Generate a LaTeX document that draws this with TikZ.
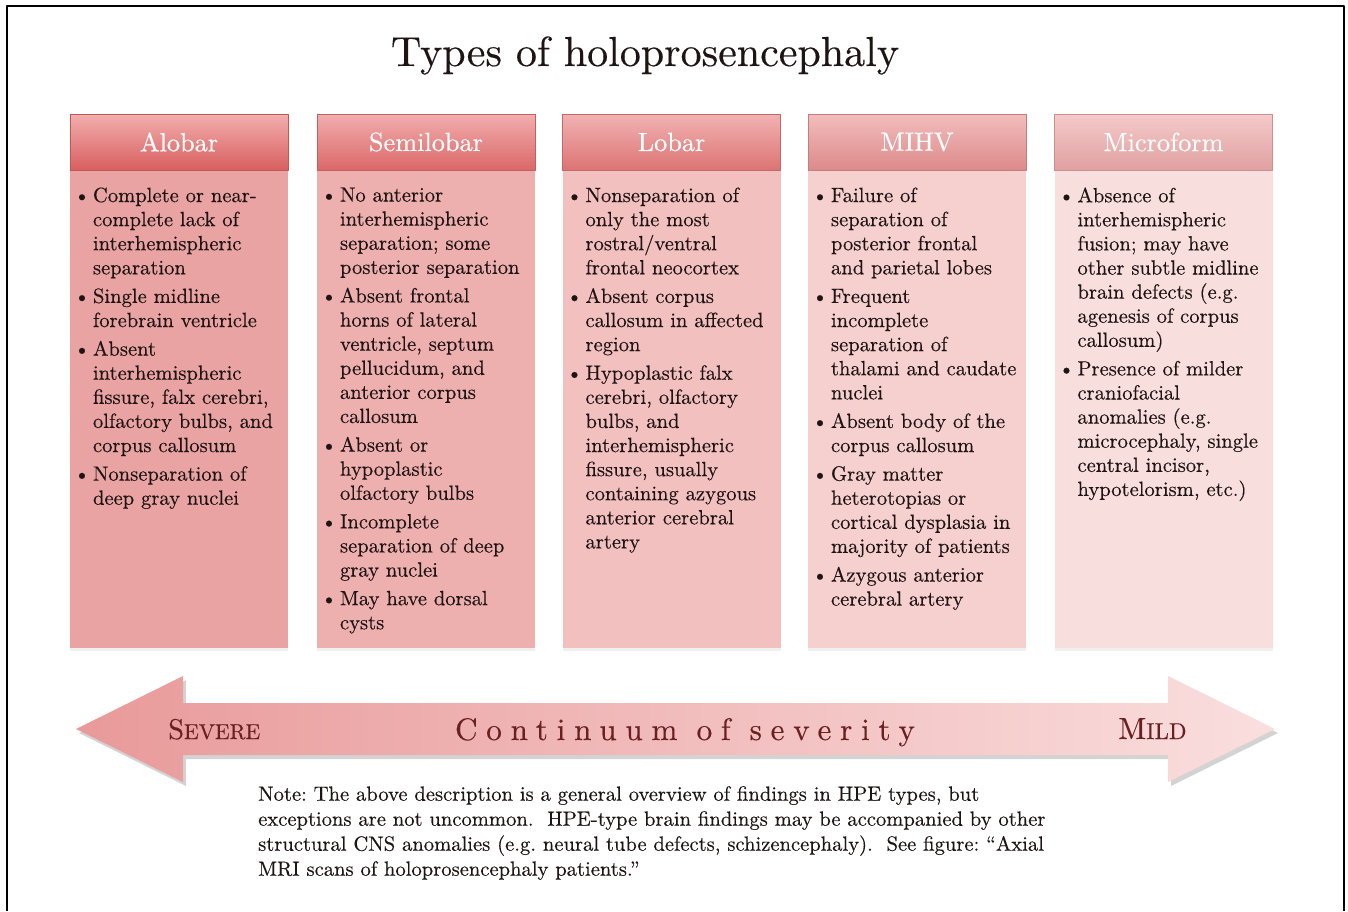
\documentclass[tikz,border=0pt]{standalone}
\usepackage{fontspec}
\usetikzlibrary{positioning,shadows}

\setmainfont[FakeBold=0.3]{lmroman10-regular.otf}
\newfontfamily\spacedfont[LetterSpace=28,FakeBold=0.3]{lmroman10-regular.otf}
\frenchspacing

% column colours, severe -> mild
\definecolor{bodyA}{HTML}{E9A3A3}
\definecolor{bodyB}{HTML}{EEAFAF}
\definecolor{bodyC}{HTML}{F3C0C0}
\definecolor{bodyD}{HTML}{F6CFCF}
\definecolor{bodyE}{HTML}{F9DEDE}
\definecolor{headtopA}{HTML}{F3AEAE}
\definecolor{headtopB}{HTML}{F2AEAE}
\definecolor{headtopC}{HTML}{F2B2B2}
\definecolor{headtopD}{HTML}{F3BDBD}
\definecolor{headtopE}{HTML}{F5CACA}
\definecolor{headbotA}{HTML}{D95F5F}
\definecolor{headbotB}{HTML}{DB6868}
\definecolor{headbotC}{HTML}{DC7474}
\definecolor{headbotD}{HTML}{DC8A8A}
\definecolor{headbotE}{HTML}{E0A0A0}
\definecolor{arrowL}{HTML}{E99A9A}
\definecolor{arrowM}{HTML}{F2C2C2}
\definecolor{arrowR}{HTML}{FADEDE}
\definecolor{textdark}{HTML}{1E1414}
\definecolor{labelred}{HTML}{6A2020}

\newcommand{\hpeitem}{\llap{\textbullet\hspace{3pt}}}

\begin{document}
\begin{tikzpicture}[x=1pt,y=-1pt,line join=round,
    headbox/.style={rectangle, minimum width=218pt, minimum height=56pt, inner sep=0pt,
      text=white, line width=0.6pt, font=\fontsize{26.3}{29}\selectfont},
    bodybox/.style={rectangle, minimum width=218pt, minimum height=477pt, inner sep=0pt,
      drop shadow={opacity=0.12, shadow xshift=0pt, shadow yshift=-3pt}},
    bodytext/.style={inner sep=0pt, align=left, text=textdark,
      font=\fontsize{20.6}{24.1}\selectfont},
    sidelabel/.style={text=labelred, inner sep=0pt}]
  \useasboundingbox (0,0) rectangle (1348,911);

  % Frame
  \draw[line width=2.5pt] (7,911) -- (7,6) -- (1344,6) -- (1344,911);

  \node[font=\fontsize{42}{46}\selectfont, text=textdark, anchor=base] (title) at (645,66)
    {Types of holoprosencephaly};

  % Columns
  \foreach \cx/\idx/\title in {179/A/Alobar, 426/B/Semilobar, 671.5/C/Lobar,
                               917/D/MIHV, 1163.5/E/Microform} {
    \node[bodybox, fill=body\idx] (bd\idx) at (\cx,409.5) {};
    \node[headbox, top color=headtop\idx, bottom color=headbot\idx, draw=headbot\idx!90!black]
      (hd\idx) at (\cx,142) {\title};
  }

  \node[bodytext, below right=16.5pt and 23pt of bdA.north west] (txA) {%
    \hpeitem Complete or near-\\ complete lack of\\ interhemispheric\\ separation\\[4.5pt]
    \hpeitem Single midline\\ forebrain ventricle\\[4.5pt]
    \hpeitem Absent\\ interhemispheric\\ fissure, falx cerebri,\\ olfactory bulbs, and\\ corpus callosum\\[4.5pt]
    \hpeitem Nonseparation of\\ deep gray nuclei};

  \node[bodytext, below right=16.5pt and 23pt of bdB.north west] (txB) {%
    \hpeitem No anterior\\ interhemispheric\\ separation; some\\ posterior separation\\[4.5pt]
    \hpeitem Absent frontal\\ horns of lateral\\ ventricle, septum\\ pellucidum, and\\ anterior corpus\\ callosum\\[4.5pt]
    \hpeitem Absent or\\ hypoplastic\\ olfactory bulbs\\[4.5pt]
    \hpeitem Incomplete\\ separation of deep\\ gray nuclei\\[4.5pt]
    \hpeitem May have dorsal\\ cysts};

  \node[bodytext, below right=16.5pt and 23pt of bdC.north west] (txC) {%
    \hpeitem Nonseparation of\\ only the most\\ rostral/ventral\\ frontal neocortex\\[4.5pt]
    \hpeitem Absent corpus\\ callosum in affected\\ region\\[4.5pt]
    \hpeitem Hypoplastic falx\\ cerebri, olfactory\\ bulbs, and\\ interhemispheric\\ fissure, usually\\ containing azygous\\ anterior cerebral\\ artery};

  \node[bodytext, below right=16.5pt and 23pt of bdD.north west] (txD) {%
    \hpeitem Failure of\\ separation of\\ posterior frontal\\ and parietal lobes\\[4.5pt]
    \hpeitem Frequent\\ incomplete\\ separation of\\ thalami and caudate\\ nuclei\\[4.5pt]
    \hpeitem Absent body of the\\ corpus callosum\\[4.5pt]
    \hpeitem Gray matter\\ heterotopias or\\ cortical dysplasia in\\ majority of patients\\[4.5pt]
    \hpeitem Azygous anterior\\ cerebral artery};

  \node[bodytext, below right=16.5pt and 23pt of bdE.north west] (txE) {%
    \hpeitem Absence of\\ interhemispheric\\ fusion; may have\\ other subtle midline\\ brain defects (e.g.\\ agenesis of corpus\\ callosum)\\[4.5pt]
    \hpeitem Presence of milder\\ craniofacial\\ anomalies (e.g.\\ microcephaly, single\\ central incisor,\\ hypotelorism, etc.)};

  % Double arrow
  \coordinate (L0) at (76,729);   \coordinate (L1) at (183,676);
  \coordinate (L2) at (183,703);  \coordinate (L3) at (183,755);
  \coordinate (L4) at (183,782);
  \coordinate (R0) at (1275,729); \coordinate (R1) at (1168,676);
  \coordinate (R2) at (1168,703); \coordinate (R3) at (1168,755);
  \coordinate (R4) at (1168,782);
  \path[left color=arrowL, middle color=arrowM, right color=arrowR,
        drop shadow={opacity=0.35, shadow xshift=3pt, shadow yshift=-4pt}]
    (L0) -- (L1) -- (L2) -- (R2) -- (R1) -- (R0) -- (R4) -- (R3) -- (L3) -- (L4) -- cycle;

  \node[sidelabel, anchor=base west] (severe) at (168,739)
    {{\fontsize{28.5}{31}\selectfont S}{\fontsize{21.6}{24}\selectfont EVERE}};
  \node[sidelabel, anchor=base west] (mild) at (1118,739)
    {{\fontsize{30.6}{33}\selectfont M}{\fontsize{23}{25}\selectfont ILD}};
  \node[sidelabel, anchor=base, font=\spacedfont\fontsize{31.2}{34}\selectfont] (scale) at (685,740)
    {Continuum of severity};

  % Note
  \node[inner sep=0pt, align=left, anchor=north west, text=textdark,
        font=\fontsize{20.6}{25}\selectfont] (note) at (258,786) {%
    Note: The above description is a general overview of findings in HPE types, but\\
    exceptions are not uncommon.\ \ HPE-type brain findings may be accompanied by other\\
    structural CNS anomalies (e.g.\ neural tube defects, schizencephaly).\ \ See figure: “Axial\\
    MRI scans of holoprosencephaly patients.”};
\end{tikzpicture}
\end{document}
